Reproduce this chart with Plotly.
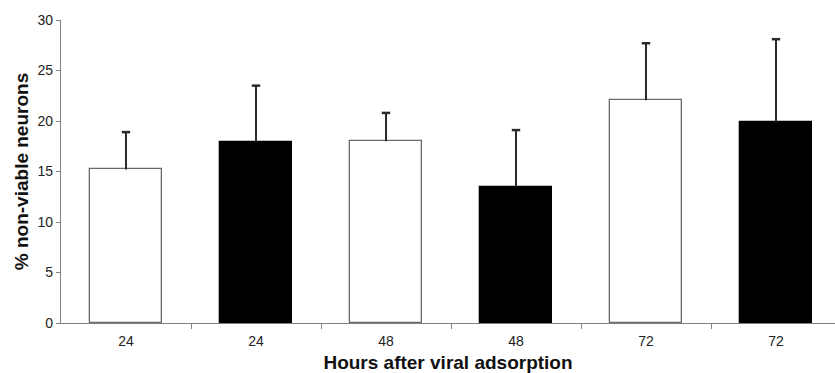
import plotly.graph_objects as go

hours = ["24", "24", "48", "48", "72", "72"]
values = [15.2, 17.95, 18.0, 13.5, 22.05, 19.9]
upper_err = [3.7, 5.55, 2.8, 5.6, 5.65, 8.2]
open_idx = [0, 2, 4]
filled_idx = [1, 3, 5]

FONT = "Liberation Sans, Arial, sans-serif"
fig = go.Figure()

def add_group(idx, fill, line):
    fig.add_trace(go.Bar(
        x=idx, y=[values[i] for i in idx], width=0.56,
        marker=dict(color=fill, line=dict(color=line, width=1.3)),
        showlegend=False, hoverinfo="skip"))

add_group(open_idx, "white", "#6a6a6a")
add_group(filled_idx, "black", "black")

# upward-only error bars: stems from bar top to top + error, caps at top
ex, ey = [], []
for i, (v, e) in enumerate(zip(values, upper_err)):
    ex += [i, i, None]
    ey += [v, v + e, None]
fig.add_trace(go.Scatter(x=ex, y=ey, mode="lines",
                         line=dict(color="#2a2a2a", width=2),
                         showlegend=False, hoverinfo="skip"))
fig.add_trace(go.Scatter(x=list(range(len(values))),
                         y=[v + e for v, e in zip(values, upper_err)],
                         mode="markers",
                         marker=dict(symbol="line-ew", size=6,
                                     line=dict(color="#2a2a2a", width=2.5)),
                         showlegend=False, hoverinfo="skip"))

fig.update_layout(
    width=835, height=373,
    margin=dict(l=61, r=0, t=20, b=50),
    plot_bgcolor="white", paper_bgcolor="white",
    font=dict(family=FONT, size=14, color="#222"),
    bargap=0,
)
fig.update_xaxes(
    range=[-0.5, -0.5 + 774 / 130],
    tickvals=list(range(len(hours))), ticktext=hours,
    ticks="", showgrid=False, zeroline=False,
    showline=True, linecolor="#808080", linewidth=1.3,
    tickfont=dict(size=14, color="#222"),
    ticklabelstandoff=5,
    minor=dict(tickvals=[i + 0.5 for i in range(len(hours))],
               ticks="outside", ticklen=5, tickcolor="#808080", tickwidth=1.3, showgrid=False),
    title=dict(text="<b>Hours after viral adsorption</b>", font=dict(size=19, color="#111"), standoff=10),
)
fig.update_yaxes(
    range=[0, 30], tickvals=[0, 5, 10, 15, 20, 25, 30],
    ticks="outside", ticklen=4, tickcolor="#808080", tickwidth=1.3,
    showgrid=False, zeroline=False,
    showline=True, linecolor="#808080", linewidth=1.3,
    tickfont=dict(size=14, color="#222"),
    title=dict(text="<b>% non-viable neurons</b>", font=dict(size=19, color="#111"), standoff=3),
)
fig.write_html("out.html")
